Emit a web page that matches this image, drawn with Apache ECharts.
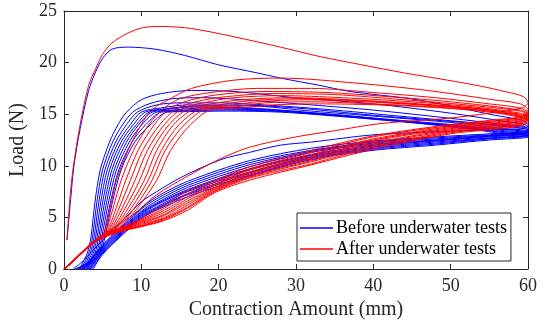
<!DOCTYPE html>
<html>
<head>
<meta charset="utf-8">
<script src="https://cdn.jsdelivr.net/npm/echarts@6/dist/echarts.min.js"></script>
<style>
  html, body { margin: 0; padding: 0; background: #fff; }
  #main { width: 545px; height: 328px; }
</style>
</head>
<body>
<div id="main"></div>
<script>
// axis ticks
var xTicks = [0, 10, 20, 30, 40, 50, 60];
var yTicks = [0, 5, 10, 15, 20, 25];
var seriesNames = ['Before underwater tests', 'After underwater tests'];

// first cycle (higher peak), before / after
var blueFirst = [[0.4,2.8],[0.9,7],[1.3,10],[2.1,13.6],[3.2,17.3],[4.1,19.1],[5,20.4],[6.2,21.3],[8.3,21.5],[11.8,21.3],[15.6,20.7],[19.9,19.8],[25,19.0],[28,18.5],[33,17.8],[37,17.2],[44.8,16.5],[50,15.8],[55,15.0],[58,14.6],[59.6,14.3],[60,13.9],[59.4,13.6],[55,13.5],[48,13.3],[40,13.0],[32,12.3],[28,12.0],[24,11.3],[20.3,10.6],[15.2,8.9],[12,7.5],[10,6.5],[8,5.0],[6,3.5],[4,2.0],[2.5,0.8],[1.2,0]];
var redFirst = [[0.4,2.8],[0.8,7],[1.2,9.8],[2.1,14],[3.2,17.8],[4.1,19.4],[5,20.8],[6.2,21.9],[8.4,22.9],[10.3,23.4],[12.6,23.5],[16.5,23.3],[22,22.5],[28,21.5],[33,20.6],[38.4,19.8],[44,19.0],[49.6,18.3],[54,17.7],[57,17.2],[59.4,16.7],[60,16.1],[59.2,15.6],[55,15.1],[49.6,14.6],[41,14.1],[35,13.4],[30,12.8],[24,11.8],[20,10.6],[16,9.0],[12,7.2],[9,5.3],[6,3.8],[4,2.8],[2,1.4],[0.2,0]];

// later cycles, before underwater tests
var blueLoops = [
  [[2.0,0],[3.0,1.5],[3.5,3.1],[4.0,6.4],[4.7,9.6],[5.9,12.3],[7.0,14],[8.1,15.2],[10,16.4],[12.6,17.0],[16.5,17.3],[22,17.2],[30,16.6],[40,16.0],[50,15.1],[57,14.3],[59.6,14.0],[60,13.6],[59.4,13.3],[55,13.1],[48,12.8],[40,12.4],[32,11.7],[24,10.5],[16,8.5],[12,7.0],[10,5.9],[8,4.5],[6,3.1],[5,2.3],[4,1.5],[3,0.6],[1.4,0]],
  [[2.2,0],[3.2,1.5],[3.7,3.1],[4.25,6.4],[5.0,9.6],[6.3,12.3],[7.6,14],[8.9,15.2],[11,16.0],[14,16.5],[18,16.6],[25,16.3],[32,15.9],[40,15.4],[50,14.6],[57,14.0],[59.6,13.8],[60,13.4],[59.4,13.2],[55,13.0],[48,12.7],[40,12.3],[32,11.5],[24,10.3],[16,8.3],[12,6.8],[10,5.8],[8,4.4],[6,3.0],[5,2.2],[4,1.4],[3,0.55],[1.6,0]],
  [[2.4,0],[3.4,1.5],[3.9,3.1],[4.5,6.4],[5.3,9.6],[6.7,12.3],[8.1,14],[9.5,15.2],[12,15.9],[15,16.1],[20,16.1],[28,15.8],[35,15.4],[45,14.7],[57,13.9],[59.6,13.7],[60,13.35],[59.4,13.15],[55,12.95],[48,12.6],[40,12.2],[32,11.4],[24,10.1],[16,8.1],[12,6.6],[10,5.6],[8,4.3],[6,2.9],[5,2.1],[4,1.3],[3,0.5],[1.8,0]],
  [[2.6,0],[3.6,1.5],[4.1,3.1],[4.75,6.4],[5.6,9.6],[7.05,12.3],[8.6,14],[10.0,15.2],[12.5,15.6],[16,15.9],[22,15.9],[30,15.6],[40,14.9],[50,14.3],[57,13.8],[59.6,13.6],[60,13.3],[59.4,13.1],[55,12.9],[48,12.5],[40,12.1],[32,11.3],[24,9.9],[16,7.9],[12,6.4],[10,5.5],[8,4.2],[6,2.8],[5,2.0],[4,1.2],[3,0.4],[2.0,0]],
  [[2.8,0],[3.8,1.5],[4.3,3.1],[5.0,6.4],[5.9,9.6],[7.4,12.3],[9.0,14],[10.5,15.2],[13,15.5],[17,15.8],[24,15.8],[32,15.3],[42,14.7],[50,14.2],[57,13.6],[59.6,13.45],[60,13.2],[59.4,13.05],[55,12.85],[48,12.45],[40,12.0],[32,11.1],[24,9.7],[16,7.7],[12,6.3],[10,5.4],[8,4.1],[6,2.7],[5,1.9],[4,1.1],[3,0.35],[2.2,0]],
  [[3.0,0],[4.0,1.5],[4.5,3.1],[5.25,6.4],[6.2,9.6],[7.75,12.3],[9.4,14],[11.0,15.2],[13.5,15.5],[17,15.7],[24,15.6],[33,15.1],[42,14.5],[50,14.0],[57,13.5],[59.6,13.35],[60,13.1],[59.4,13.0],[55,12.8],[48,12.4],[40,11.9],[32,11.0],[24,9.6],[16,7.6],[12,6.2],[10,5.3],[8,4.0],[6,2.6],[5,1.8],[4,1.0],[3,0.3],[2.4,0]],
  [[3.2,0],[4.2,1.5],[4.7,3.1],[5.5,6.4],[6.5,9.6],[8.1,12.3],[9.7,14],[11.4,15.2],[14,15.4],[18,15.6],[25,15.5],[34,15.0],[43,14.4],[51,13.9],[57,13.4],[59.6,13.25],[60,13.0],[59.4,12.9],[55,12.7],[48,12.3],[40,11.8],[32,10.9],[24,9.4],[16,7.5],[12,6.0],[10,5.2],[8,3.9],[6,2.5],[5,1.7],[4,0.9],[3,0.25],[2.6,0]],
  [[3.4,0],[4.4,1.5],[4.9,3.1],[5.75,6.4],[6.8,9.6],[8.45,12.3],[10.1,14],[12.0,15.2],[14.5,15.35],[19,15.5],[26,15.4],[35,14.9],[44,14.3],[51,13.8],[57,13.3],[59.6,13.15],[60,12.95],[59.4,12.85],[55,12.65],[48,12.2],[40,11.7],[32,10.8],[24,9.3],[16,7.3],[12,5.9],[10,5.1],[8,3.8],[6,2.4],[5,1.6],[4,0.8],[3.2,0.2],[2.8,0]],
  [[3.6,0],[4.6,1.5],[5.1,3.1],[6.0,6.4],[7.1,9.6],[8.8,12.3],[10.6,14],[12.6,15.2],[15,15.3],[20,15.4],[27,15.3],[36,14.8],[45,14.2],[52,13.7],[57,13.2],[59.6,13.05],[60,12.85],[59.4,12.8],[55,12.6],[48,12.1],[40,11.6],[32,10.7],[24,9.1],[16,7.2],[12,5.8],[10,5.0],[8,3.7],[6,2.3],[5,1.5],[4,0.7],[3.4,0.15],[3.0,0]],
  [[3.8,0],[4.8,1.5],[5.3,3.1],[6.25,6.4],[7.4,9.6],[9.15,12.3],[11.2,14],[13.4,15.2],[16,15.25],[21,15.3],[28,15.2],[37,14.7],[46,14.1],[52,13.6],[57,13.1],[59.6,12.95],[60,12.8],[59.4,12.7],[55,12.5],[48,12.0],[40,11.5],[32,10.6],[24,9.0],[16,7.0],[12,5.7],[10,4.9],[8,3.6],[6,2.2],[5,1.4],[4.2,0.6],[3.6,0.1],[3.2,0]]
];

// later cycles, after underwater tests (all start on the same toe)
var redToe = [[0,0],[1,0.6],[2,1.4],[3,2.1],[4,2.7]];
var redLoops = [
  [[5.0,3.3],[5.4,4],[6.0,6],[6.8,8.6],[8.3,11.5],[10.0,14],[11.5,15.5],[13.5,16.4],[16.5,17.5],[22,18.3],[28,18.5],[38,18.0],[47,17.3],[55.5,16.4],[59,16.0],[60,15.4],[59.3,14.8],[55,14.4],[50,14.0],[40,12.9],[32,11.5],[24,9.9],[19.5,8.6],[16,7.6],[13,6.2],[10,4.9],[8,4.2],[6,3.5],[4,2.8],[2,1.4],[0,0]],
  [[5.1,3.35],[5.6,4],[6.4,6],[7.4,8.6],[9.0,11.5],[11.0,14],[12.8,15.5],[15,16.5],[19,17.1],[25,17.5],[32,17.5],[40,17.1],[48,16.6],[55,16.0],[59,15.6],[60,15.1],[59.3,14.7],[55,14.3],[50,13.9],[40,12.8],[32,11.3],[24,9.7],[19.5,8.4],[16,7.3],[13,5.9],[10,4.8],[8,4.1],[6,3.5],[4,2.75],[2,1.4],[0,0]],
  [[5.2,3.4],[5.8,4],[6.8,6],[8.0,8.6],[9.6,11.5],[11.7,14],[13.6,15.5],[16,16.3],[20,16.9],[26,17.2],[34,17.1],[42,16.7],[50,16.2],[59,15.4],[60,15.0],[59.3,14.6],[55,14.2],[50,13.8],[40,12.6],[32,11.1],[24,9.6],[19.5,8.2],[16,7.0],[13,5.7],[10,4.7],[8,4.05],[6,3.5],[4,2.75],[2,1.4],[0,0]],
  [[5.3,3.4],[6.0,4],[7.2,6],[8.6,8.6],[10.2,11.5],[12.4,14],[14.5,15.5],[17,16.2],[21,16.7],[27,17.0],[35,16.9],[44,16.4],[52,15.9],[59,15.3],[60,14.9],[59.3,14.5],[55,14.1],[50,13.7],[40,12.5],[32,11.0],[24,9.4],[19.5,8.1],[16,6.8],[13,5.5],[10,4.6],[8,4.0],[6,3.5],[4,2.7],[2,1.35],[0,0]],
  [[5.4,3.45],[6.2,4],[7.6,6],[9.2,8.6],[10.8,11.5],[13.0,14],[15.2,15.5],[18,16.1],[22,16.6],[28,16.8],[36,16.6],[45,16.2],[53,15.7],[59,15.1],[60,14.8],[59.3,14.4],[55,14.0],[50,13.6],[40,12.4],[32,10.8],[24,9.3],[19.5,7.9],[16,6.6],[13,5.3],[10,4.5],[8,3.95],[6,3.45],[4,2.7],[2,1.35],[0,0]],
  [[5.5,3.45],[6.4,4],[8.0,6],[9.8,8.6],[11.4,11.5],[13.6,14],[16.0,15.5],[19,16.0],[23,16.4],[29,16.6],[37,16.4],[46,16.0],[53,15.6],[59,15.0],[60,14.7],[59.3,14.3],[55,13.9],[50,13.5],[40,12.2],[32,10.7],[24,9.2],[19.5,7.8],[16,6.4],[13,5.2],[10,4.4],[8,3.9],[6,3.45],[4,2.7],[2,1.35],[0,0]],
  [[5.6,3.5],[6.6,4],[8.4,6],[10.4,8.6],[12.0,11.5],[14.2,14],[16.8,15.5],[20,15.9],[24,16.3],[30,16.5],[38,16.3],[47,15.9],[54,15.5],[59,14.9],[60,14.6],[59.3,14.2],[55,13.8],[50,13.4],[40,12.1],[32,10.5],[24,9.0],[19.5,7.7],[16,6.2],[13,5.0],[10,4.3],[8,3.85],[6,3.4],[4,2.65],[2,1.3],[0,0]],
  [[5.7,3.5],[6.8,4],[8.8,6],[10.9,8.6],[12.6,11.5],[14.9,14],[17.6,15.5],[21,15.8],[25,16.2],[31,16.4],[39,16.2],[48,15.8],[54,15.4],[59,14.8],[60,14.5],[59.3,14.1],[55,13.7],[50,13.3],[40,11.9],[32,10.4],[24,8.9],[19.5,7.6],[16,6.0],[13,4.9],[10,4.2],[8,3.8],[6,3.4],[4,2.65],[2,1.3],[0,0]],
  [[5.8,3.55],[7.0,4],[9.2,6],[11.4,8.6],[13.1,11.5],[15.6,14],[18.4,15.5],[22,15.7],[26,16.1],[32,16.2],[40,16.0],[48,15.7],[55,15.3],[59,14.8],[60,14.4],[59.3,14.0],[55,13.6],[50,13.2],[40,11.8],[32,10.2],[24,8.8],[19.5,7.5],[16,5.9],[13,4.8],[10,4.15],[8,3.8],[6,3.35],[4,2.6],[2,1.3],[0,0]],
  [[5.9,3.55],[7.2,4],[9.6,6],[12.0,8.6],[13.8,11.5],[16.4,14],[19.3,15.5],[23,15.6],[27,15.9],[33,16.0],[41,15.9],[49,15.6],[55,15.2],[59,14.7],[60,14.3],[59.3,13.9],[55,13.5],[50,13.1],[40,11.6],[32,10.1],[24,8.6],[19.5,7.4],[16,5.7],[13,4.7],[10,4.1],[8,3.75],[6,3.3],[4,2.6],[2,1.3],[0,0]]
];

var axisColor = '#262626';
var serif = 'Liberation Serif';

function curve(name, color, pts) {
    return {
        name: name,
        type: 'line',
        data: pts,
        symbol: 'none',
        showSymbol: false,
        smooth: 0.3,
        silent: true,
        lineStyle: { width: 1, color: color },
        itemStyle: { color: color }
    };
}

var series = [];
series.push(curve(seriesNames[0], '#0000ff', blueFirst));
blueLoops.forEach(function (l) { series.push(curve(seriesNames[0], '#0000ff', l)); });
series.push(curve(seriesNames[1], '#ff0000', redFirst));
redLoops.forEach(function (l) { series.push(curve(seriesNames[1], '#ff0000', redToe.concat(l))); });

function xAxisCfg(pos, main) {
    return {
        type: 'value', position: pos,
        min: xTicks[0], max: xTicks[xTicks.length - 1], interval: xTicks[1] - xTicks[0],
        axisLine: { show: true, onZero: false, lineStyle: { color: axisColor, width: 1 } },
        axisTick: { show: true, inside: true, length: 5, lineStyle: { color: axisColor } },
        axisLabel: { show: main, color: axisColor, fontFamily: serif, fontSize: 18, margin: 8 },
        splitLine: { show: false },
        name: main ? 'Contraction Amount (mm)' : '',
        nameLocation: 'middle', nameGap: 30,
        nameTextStyle: { color: axisColor, fontFamily: serif, fontSize: 20 }
    };
}
function yAxisCfg(pos, main) {
    return {
        type: 'value', position: pos,
        min: yTicks[0], max: yTicks[yTicks.length - 1], interval: yTicks[1] - yTicks[0],
        axisLine: { show: true, onZero: false, lineStyle: { color: axisColor, width: 1 } },
        axisTick: { show: true, inside: true, length: 5, lineStyle: { color: axisColor } },
        axisLabel: { show: main, color: axisColor, fontFamily: serif, fontSize: 18, margin: 7 },
        splitLine: { show: false },
        name: main ? 'Load (N)' : '',
        nameLocation: 'middle', nameGap: 27,
        nameTextStyle: { color: axisColor, fontFamily: serif, fontSize: 20 }
    };
}

var myChart = echarts.init(document.getElementById('main'), null, { renderer: 'canvas' });
myChart.setOption({
    animation: false,
    backgroundColor: '#ffffff',
    grid: { left: 62, right: 17, top: 11, bottom: 59 },
    xAxis: [xAxisCfg('bottom', true), xAxisCfg('top', false)],
    yAxis: [yAxisCfg('left', true), yAxisCfg('right', false)],
    legend: {
        data: seriesNames,
        orient: 'vertical',
        left: 297, top: 213,
        padding: [6, 4, 3, 3],
        itemGap: 3,
        itemWidth: 33,
        itemHeight: 1.5,
        icon: 'rect',
        backgroundColor: '#ffffff',
        borderColor: axisColor,
        borderWidth: 1,
        borderRadius: 0,
        selectedMode: false,
        textStyle: { color: '#000', fontFamily: serif, fontSize: 18, padding: [0, 0, 0, -2] }
    },
    series: series
});
</script>
</body>
</html>
